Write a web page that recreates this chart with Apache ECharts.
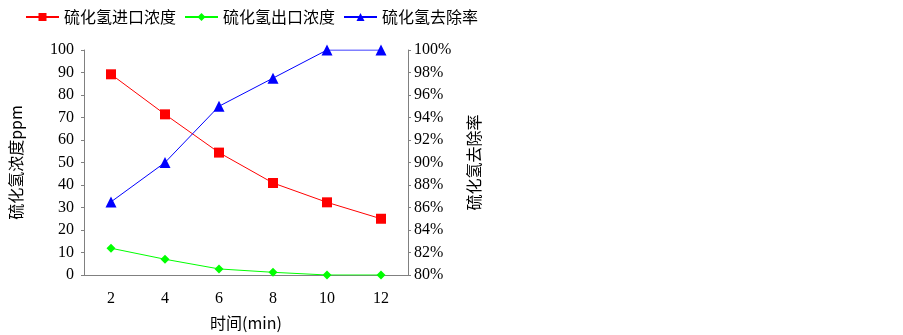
<!DOCTYPE html>
<html>
<head>
<meta charset="utf-8">
<script src="https://cdn.jsdelivr.net/npm/echarts@6/dist/echarts.min.js"></script>
<style>
html, body { margin: 0; padding: 0; background: #fff; }
#chart_box { width: 903px; height: 335px; }
</style>
</head>
<body>
<div id="chart_box"></div>
<script>
/*横轴 时间(min)*/
var times = ['2', '4', '6', '8', '10', '12'];
/*进口浓度 ppm*/
var inletConc = [89.2, 71.4, 54.4, 40.9, 32.3, 25.0];
/*出口浓度 ppm*/
var outletConc = [11.9, 7.0, 2.7, 1.2, 0, 0];
/*去除率 %*/
var removalRate = [86.5, 90.0, 95.0, 97.5, 100, 100];
/*右轴刻度*/
var rateTicks = [80, 100, 2];

var serif = '"Liberation Serif", "Noto Sans CJK SC", serif';
var cjk = '"Noto Sans CJK SC", "Liberation Serif", serif';

var mychart = echarts.init(document.getElementById('chart_box'));
var option = {
	animation: false,
	legend: {
		top: 4,
		left: 20,
		itemWidth: 33,
		itemHeight: 10,
		itemGap: 8,
		textStyle: { fontFamily: cjk, fontSize: 16, color: '#000' },
		data: ['硫化氢进口浓度', '硫化氢出口浓度', '硫化氢去除率']
	},
	/*固定绘图区,不随标签收缩*/
	grid: { left: 84, right: 495, top: 50, bottom: 60, outerBoundsMode: 'none' },
	xAxis: {
		type: 'category',
		data: times,
		name: '时间(min)',
		nameLocation: 'middle',
		nameGap: 40,
		nameTextStyle: { fontFamily: cjk, fontSize: 16, color: '#000' },
		axisLine: { lineStyle: { color: '#808080' } },
		axisTick: { inside: true, length: 4, lineStyle: { color: '#808080' } },
		axisLabel: { fontFamily: serif, fontSize: 16, color: '#000', margin: 16 }
	},
	yAxis: [{
		type: 'value',
		min: 0,
		max: 100,
		interval: 10,
		name: '硫化氢浓度ppm',
		nameLocation: 'middle',
		nameGap: 60,
		nameTextStyle: { fontFamily: cjk, fontSize: 16, color: '#000' },
		splitLine: { show: false },
		axisLine: { show: true, lineStyle: { color: '#808080' } },
		axisTick: { show: true, length: 3, lineStyle: { color: '#808080' } },
		axisLabel: { fontFamily: serif, fontSize: 16, color: '#000', margin: 10 }
	}, {
		type: 'value',
		min: rateTicks[0],
		max: rateTicks[1],
		interval: rateTicks[2],
		name: '硫化氢去除率',
		nameLocation: 'middle',
		nameGap: 58,
		nameRotate: 90,
		nameTextStyle: { fontFamily: cjk, fontSize: 16, color: '#000' },
		splitLine: { show: false },
		axisLine: { show: true, lineStyle: { color: '#808080' } },
		axisTick: { show: true, length: 3, lineStyle: { color: '#808080' } },
		axisLabel: { fontFamily: serif, fontSize: 16, color: '#000', margin: 6, formatter: '{value}%' }
	}],
	series: [{
		name: '硫化氢进口浓度',
		type: 'line',
		data: inletConc,
		symbol: 'rect',
		symbolSize: 10,
		itemStyle: { color: '#ff0000' },
		lineStyle: { color: '#ff0000', width: 1 }
	}, {
		name: '硫化氢出口浓度',
		type: 'line',
		data: outletConc,
		symbol: 'diamond',
		symbolSize: 9,
		itemStyle: { color: '#00ff00' },
		lineStyle: { color: '#00ff00', width: 1 }
	}, {
		name: '硫化氢去除率',
		type: 'line',
		yAxisIndex: 1,
		data: removalRate,
		symbol: 'triangle',
		symbolSize: 11,
		itemStyle: { color: '#0000ff' },
		lineStyle: { color: '#0000ff', width: 1 }
	}]
};
mychart.setOption(option);
</script>
</body>
</html>
